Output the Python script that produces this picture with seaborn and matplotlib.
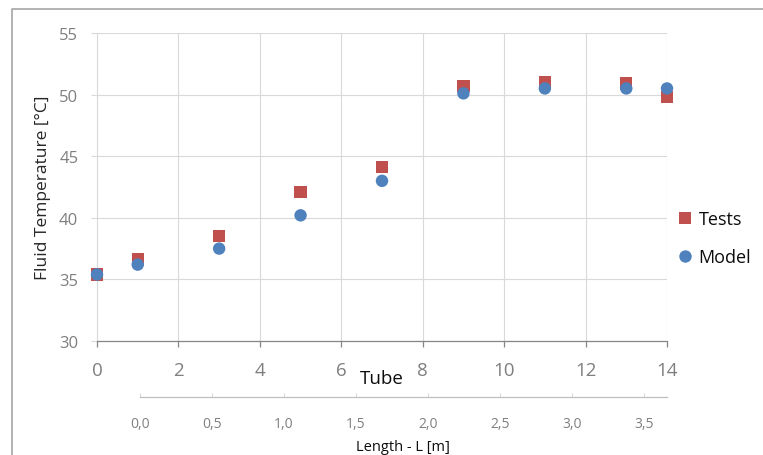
import matplotlib
matplotlib.use("Agg")
import matplotlib.pyplot as plt
import seaborn as sns
import pandas as pd
from matplotlib.lines import Line2D
from matplotlib.ticker import FuncFormatter

# ---- data ----
tube = [0, 1, 3, 5, 7, 9, 11, 13, 14]
tests = [35.4, 36.6, 38.5, 42.1, 44.1, 50.7, 51.0, 50.9, 49.8]
model = [35.4, 36.2, 37.5, 40.2, 43.0, 50.1, 50.5, 50.5, 50.5]
series_names = ["Tests", "Model"]
y_ticks = [30, 35, 40, 45, 50, 55]
x_ticks = [0, 2, 4, 6, 8, 10, 12, 14]
len_ticks = [0.0, 0.5, 1.0, 1.5, 2.0, 2.5, 3.0, 3.5]
len_max = 3.66

df = pd.DataFrame({
    "Tube": tube + tube,
    "Temp": tests + model,
    "Series": [series_names[0]] * len(tube) + [series_names[1]] * len(tube),
})

sns.set_theme(style="white")
plt.rcParams["font.family"] = ["Open Sans", "DejaVu Sans"]

W, H = 763, 456
fig = plt.figure(figsize=(W / 100, H / 100), dpi=100)
ax = fig.add_axes([97 / W, 1 - 342 / H, 570 / W, 308 / H])

sns.scatterplot(
    data=df, x="Tube", y="Temp", hue="Series", style="Series",
    markers={"Tests": "s", "Model": "o"},
    palette={"Tests": "#C0504D", "Model": "#4F81BD"},
    s=80, linewidth=0, ax=ax, zorder=3, clip_on=False,
)

ax.set_xlim(0, 14)
ax.set_ylim(30, 55)
ax.set_xticks(x_ticks)
ax.set_yticks(y_ticks)
ax.grid(True, color="#D9D9D9", linewidth=0.8)
ax.set_axisbelow(True)
for s in ["top", "right"]:
    ax.spines[s].set_visible(False)
ax.spines["left"].set_color("#D9D9D9")
ax.spines["left"].set_linewidth(0.8)
ax.spines["bottom"].set_color("#868686")
ax.spines["bottom"].set_linewidth(0.9)
ax.tick_params(axis="x", direction="out", length=4.5, width=0.9, color="#868686",
               pad=10, labelsize=13.5, labelcolor="#7F7F7F", bottom=True)
ax.tick_params(axis="y", direction="out", length=4.5, width=0.8, color="#D9D9D9",
               pad=9, labelsize=12, labelcolor="#7F7F7F", left=True)

ax.set_ylabel("Fluid Temperature [°C]", fontsize=12.5, color="#262626", va="center")
ax.yaxis.set_label_coords(-(97 - 43) / 570, 0.5)
ax.set_xlabel("Tube", fontsize=13.5, color="#0D0D0D", va="center")
ax.xaxis.set_label_coords(0.5, -(379 - 342) / 308)

# secondary length axis
a = 40.714 / 144.0
b = (97 - 140) / 144.0
sec = ax.secondary_xaxis(-(398 - 342) / 308, functions=(lambda t: a * t + b, lambda L: (L - b) / a))
sec.set_xticks(len_ticks)
sec.xaxis.set_major_formatter(FuncFormatter(lambda v, p: f"{v:.1f}".replace(".", ",")))
sec.spines["bottom"].set_bounds(0, len_max)
sec.spines["bottom"].set_color("#BFBFBF")
sec.spines["bottom"].set_linewidth(0.9)
sec.tick_params(axis="x", direction="in", length=3, width=0.8, color="#D9D9D9",
                pad=13.5, labelsize=10, labelcolor="#7F7F7F")
sec.set_xlabel("Length - L [m]", fontsize=10.5, color="#0D0D0D", va="center")
sec.xaxis.set_label_coords((403 - 97) / 570, -(448 - 342) / 308, transform=ax.transAxes)

# legend
sns.move_legend(ax, loc="upper left", bbox_to_anchor=(676 / W, 1 - 211 / H),
                bbox_transform=fig.transFigure, frameon=False, title=None,
                fontsize=13, handlelength=1.0, handletextpad=0.25,
                labelspacing=1.1, borderpad=0, borderaxespad=0)
for t in ax.get_legend().get_texts():
    t.set_color("#0D0D0D")

# outer chart border
fig.add_artist(Line2D([12 / W, 12 / W, 1.0], [0.0, 1 - 10 / H, 1 - 10 / H],
                      transform=fig.transFigure, color="#A6A6A6", linewidth=1.2))

fig.savefig("out.png", dpi=100)
